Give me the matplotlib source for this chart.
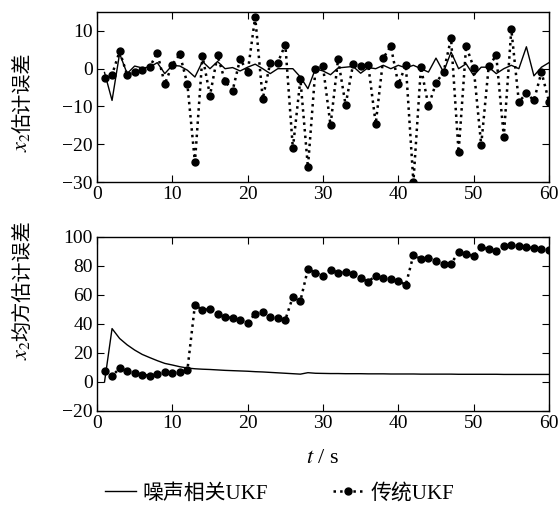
import numpy as np
import matplotlib
matplotlib.use("Agg")
import matplotlib.pyplot as plt

plt.rcParams['font.family'] = ['Liberation Serif', 'Noto Sans CJK SC']
plt.rcParams['mathtext.fontset'] = 'stix'
plt.rcParams['axes.unicode_minus'] = True

t = np.arange(1, 61)

# x2 estimation error, traditional UKF
err_ukf = [-2.5, -1.6, 4.6, -1.6, -0.9, -0.3, 0.4, 4.2, -4.1, 1.1,
           3.8, -4.1, -24.8, 3.4, -7.1, 3.5, -3.3, -5.8, 2.6, -1.0,
           13.7, -8.0, 1.6, 1.6, 6.4, -21.1, -2.8, -26.1, 0.0, 0.6,
           -15.0, 2.5, -9.6, 1.2, 0.6, 1.1, -14.6, 2.8, 6.0, -4.1,
           0.9, -30.0, 0.4, -9.9, -3.8, -0.9, 8.0, -22.1, 6.0, 0.3,
           -20.2, 0.7, 3.5, -18.0, 10.4, -8.8, -6.5, -8.4, -0.9, -8.7]
# x2 estimation error, noise-correlated UKF
err_corr = [-1.0, -8.4, 4.0, -1.3, 0.7, 0.2, 0.4, 1.6, -1.3, 0.9,
            0.7, -0.4, -2.2, 1.9, 0.0, 1.9, 0.0, 0.3, -0.6, 0.4,
            1.2, 0.0, -1.3, 0.0, 0.0, 0.0, -2.2, -5.3, 0.0, -0.6,
            -1.6, 0.2, 0.4, 0.6, -1.2, 0.3, 0.0, 0.9, 0.0, 0.9,
            0.2, 0.9, 0.0, -0.9, 2.8, -0.9, 4.4, 0.0, 1.3, -1.8,
            0.4, 0.4, -1.3, 0.0, 0.9, 0.0, 5.8, -1.9, 0.4, 1.6]

# x2 mean square estimation error
mse_ukf = [7.5, 4.2, 9.3, 7.9, 6.5, 5.1, 4.2, 5.4, 7.0, 6.5,
           7.2, 8.2, 53.1, 49.7, 50.3, 47.1, 44.8, 44.1, 42.4, 40.6,
           47.1, 48.0, 45.0, 43.8, 42.9, 58.7, 55.9, 77.9, 75.3, 73.0,
           77.4, 75.3, 76.0, 74.1, 71.6, 69.2, 73.2, 71.6, 70.9, 69.5,
           67.1, 87.4, 84.8, 85.5, 83.2, 81.4, 81.6, 89.3, 88.3, 86.7,
           92.8, 91.6, 90.4, 93.9, 94.4, 93.9, 92.8, 92.3, 91.6, 90.9]
mse_corr = [0.0, 36.8, 30.0, 25.6, 22.0, 19.0, 16.8, 14.7, 12.8, 11.7,
            10.5, 9.6, 9.1, 8.8, 8.6, 8.3, 8.0, 7.8, 7.6, 7.4,
            7.1, 6.9, 6.6, 6.3, 6.0, 5.7, 5.4, 6.4, 6.0, 5.9,
            5.8, 5.8, 5.7, 5.7, 5.7, 5.6, 5.6, 5.6, 5.5, 5.5,
            5.5, 5.5, 5.4, 5.4, 5.4, 5.4, 5.4, 5.3, 5.3, 5.3,
            5.3, 5.3, 5.3, 5.2, 5.2, 5.2, 5.2, 5.2, 5.2, 5.2]

W, H = 559, 512
fig = plt.figure(figsize=(W / 100, H / 100), dpi=100)
ax1 = fig.add_axes([0.1735, 0.6445, 0.8086, 0.332])
ax2 = fig.add_axes([0.1735, 0.1973, 0.8086, 0.340])

fs = 14
for ax in (ax1, ax2):
    l1, = ax.plot(t, err_corr if ax is ax1 else mse_corr, '-', color='k', lw=1.0)
    l2, = ax.plot(t, err_ukf if ax is ax1 else mse_ukf, ':', color='k', lw=1.8,
                  marker='o', ms=5)
    ax.set_xlim(0, 60)
    ax.set_xticks(range(0, 61, 10))
    ax.tick_params(direction='in', top=True, right=True, length=5,
                   labelsize=fs, pad=3)
    for s in ax.spines.values():
        s.set_linewidth(1.0)

ax1.set_ylim(-30, 15)
ax1.set_yticks([-30, -20, -10, 0, 10])

ax2.set_ylim(-20, 100)
ax2.set_yticks(range(-20, 101, 20))
ax2.set_xlabel(r'$t$ / s', fontsize=16, labelpad=12)

# y labels: italic x2 part and Chinese part drawn as two rotated texts
renderer = fig.canvas.get_renderer()


def ylabel(x_px, y_bottom_px, cjk):
    xt = fig.text(x_px / W, 1 - y_bottom_px / H, r'$x_2$', rotation=90,
                  ha='center', va='bottom', fontsize=16)
    h = xt.get_window_extent(renderer).height
    fig.text(x_px / W + 0.002, 1 - (y_bottom_px - h + 1) / H, cjk, rotation=90,
             ha='center', va='bottom', fontsize=14.5,
             family=['Noto Sans CJK SC'])


ylabel(22, 152, '估计误差')
ylabel(22, 360, '均方估计误差')

fig.legend([l1, l2], ['噪声相关UKF', '传统UKF'], loc='lower center',
           bbox_to_anchor=(0.5, -0.02), ncol=2, frameon=False, fontsize=15,
           handlelength=1.5, columnspacing=3.1, handletextpad=0.3)

fig.savefig('out.png', dpi=100)
